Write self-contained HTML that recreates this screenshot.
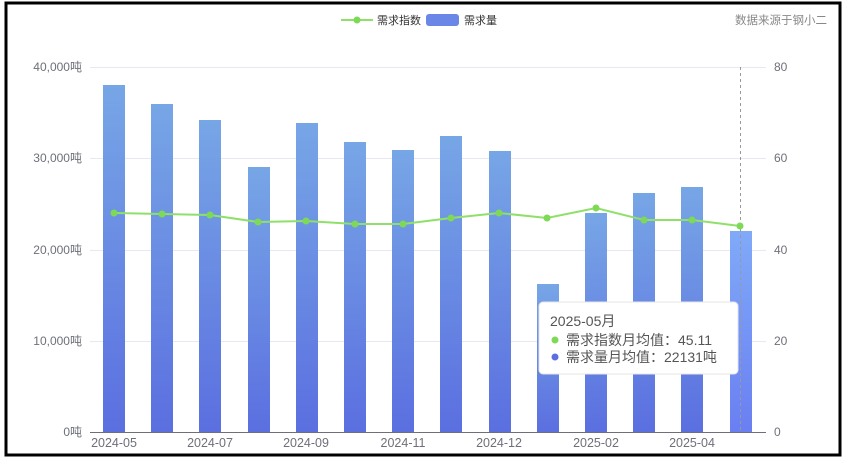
<!DOCTYPE html>
<html><head><meta charset="utf-8"><style>
html,body{margin:0;padding:0;background:#fff;}
svg{display:block;font-family:"Liberation Sans","Noto Sans CJK SC",sans-serif;}
</style></head><body>
<svg width="844" height="466" viewBox="0 0 844 466">
<defs>
<linearGradient id="g" x1="0" y1="0" x2="0" y2="1"><stop offset="0" stop-color="#77a6e6"/><stop offset="1" stop-color="#5b6fe0"/></linearGradient>
<linearGradient id="g2" x1="0" y1="0" x2="0" y2="1"><stop offset="0" stop-color="#80aaf8"/><stop offset="1" stop-color="#6a7ff2"/></linearGradient>
</defs>
<rect x="6" y="3" width="834" height="452" fill="#fff" stroke="#000" stroke-width="3"/>
<g stroke="#e6e8f2" stroke-width="1">
<line x1="90" y1="67.5" x2="766" y2="67.5"/><line x1="90" y1="158.5" x2="766" y2="158.5"/><line x1="90" y1="250.5" x2="766" y2="250.5"/><line x1="90" y1="341.5" x2="766" y2="341.5"/>
</g>
<g fill="url(#g)">
<rect x="103" y="85" width="22" height="347"/><rect x="151" y="104" width="22" height="328"/><rect x="199" y="120" width="22" height="312"/><rect x="248" y="167" width="22" height="265"/><rect x="296" y="123" width="22" height="309"/><rect x="344" y="142" width="22" height="290"/><rect x="392" y="150" width="22" height="282"/><rect x="440" y="136" width="22" height="296"/><rect x="489" y="151" width="22" height="281"/><rect x="537" y="284" width="22" height="148"/><rect x="585" y="213" width="22" height="219"/><rect x="633" y="193" width="22" height="239"/><rect x="681" y="187" width="22" height="245"/>
<rect x="730" y="231" width="22" height="201" fill="url(#g2)"/>
</g>
<line x1="740.5" y1="67" x2="740.5" y2="432" stroke="#999" stroke-dasharray="3,3"/>
<line x1="90" y1="432.5" x2="766" y2="432.5" stroke="#6e7079"/>
<polyline fill="none" stroke="#8fe06a" stroke-width="2" points="114,213 162,214 210,215 258,222 306,221 355,224 403,224 451,218 499,213 547,218 596,208 644,220 692,220 740,226"/>
<g fill="#7ed957"><circle cx="114" cy="213" r="3.5"/><circle cx="162" cy="214" r="3.5"/><circle cx="210" cy="215" r="3.5"/><circle cx="258" cy="222" r="3.5"/><circle cx="306" cy="221" r="3.5"/><circle cx="355" cy="224" r="3.5"/><circle cx="403" cy="224" r="3.5"/><circle cx="451" cy="218" r="3.5"/><circle cx="499" cy="213" r="3.5"/><circle cx="547" cy="218" r="3.5"/><circle cx="596" cy="208" r="3.5"/><circle cx="644" cy="220" r="3.5"/><circle cx="692" cy="220" r="3.5"/><circle cx="740" cy="226" r="3.5"/></g>
<g font-size="12" fill="#6e7079" text-anchor="end">
<text x="82" y="71">40,000吨</text><text x="82" y="162">30,000吨</text><text x="82" y="254">20,000吨</text><text x="82" y="345">10,000吨</text><text x="82" y="436">0吨</text>
</g>
<g font-size="12" fill="#6e7079">
<text x="774" y="71">80</text><text x="774" y="162">60</text><text x="774" y="254">40</text><text x="774" y="345">20</text><text x="774" y="436">0</text>
</g>
<g font-size="12.5" fill="#6e7079" text-anchor="middle">
<text x="114" y="447">2024-05</text><text x="210" y="447">2024-07</text><text x="306" y="447">2024-09</text><text x="403" y="447">2024-11</text><text x="499" y="447">2024-12</text><text x="596" y="447">2025-02</text><text x="692" y="447">2025-04</text>
</g>
<line x1="341" y1="20" x2="373" y2="20" stroke="#8fe06a" stroke-width="2"/><circle cx="357" cy="20" r="3.5" fill="#7ed957"/>
<text x="377" y="24" font-size="11" fill="#333">需求指数</text>
<rect x="426" y="14" width="33" height="12" rx="3" fill="#6a86e6"/>
<text x="464" y="24" font-size="11" fill="#333">需求量</text>
<text x="827" y="24" font-size="11.5" fill="#888" text-anchor="end">数据来源于钢小二</text>
<rect x="539" y="302" width="199" height="72" rx="4" fill="#fff" stroke="#e4e4e4"/>
<text x="550" y="326" font-size="14" fill="#555">2025-05月</text>
<circle cx="555" cy="340" r="3.5" fill="#7ed957"/><text x="566" y="345" font-size="14" fill="#555">需求指数月均值：45.11</text>
<circle cx="555" cy="357" r="3.5" fill="#5b6fe0"/><text x="566" y="362" font-size="14" fill="#555">需求量月均值：22131吨</text>
</svg>
</body></html>
